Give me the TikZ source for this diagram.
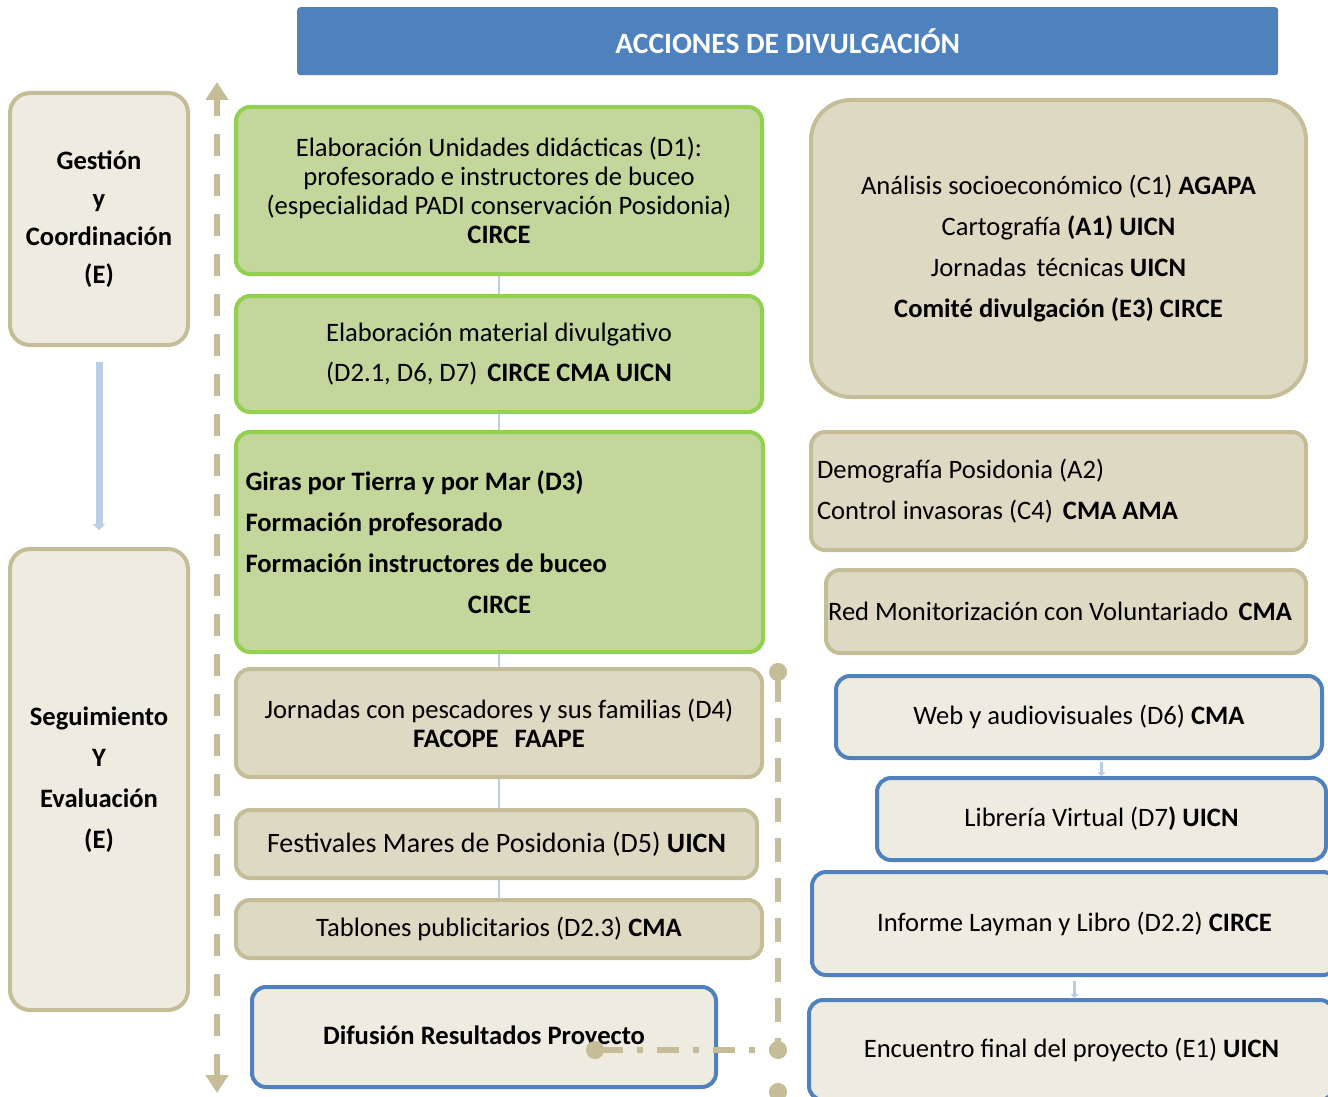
\documentclass[tikz,border=0pt]{standalone}
\usepackage{fontspec}
\setmainfont{Carlito}
\usetikzlibrary{arrows.meta,backgrounds}
\definecolor{titleblue}{HTML}{4F81BD}
\definecolor{paper}{HTML}{EEECE1}
\definecolor{tanfill}{HTML}{DDD9C3}
\definecolor{tanline}{HTML}{C4BD97}
\definecolor{greenfill}{HTML}{C3D69B}
\definecolor{greenline}{HTML}{92D050}
\definecolor{paleblue}{HTML}{B9CDE5}
\begin{document}
\begin{tikzpicture}[x=1pt, y=-1pt,
  every node/.style = {shape=rectangle, align=center, inner sep=0pt,
    font=\fontsize{26.6}{29}\selectfont},
  box/.style = {draw, line width=4pt, rounded corners=14pt, anchor=north west},
  greenbox/.style = {box, draw=greenline, fill=greenfill},
  tanbox/.style = {box, draw=tanline, fill=tanfill},
  bluebox/.style = {box, draw=titleblue, fill=paper},
  sidebox/.style = {box, draw=tanline, fill=paper, rounded corners=20pt,
    font=\bfseries\fontsize{26.6}{38}\selectfont},
  dashline/.style = {tanline, line width=6pt}]
  \useasboundingbox (0,0) rectangle (1328,1097);

  \node[anchor=north west, fill=titleblue, rounded corners=3pt, minimum width=981pt,
    minimum height=68pt, text=white, font=\bfseries\fontsize{29.5}{29}\selectfont]
    (title) at (297,7) {ACCIONES DE DIVULGACIÓN};

  \node[sidebox, minimum width=178pt, minimum height=252pt] (gest) at (8,91)
    {Gestión\\y\\Coordinación\\(E)};
  \node[sidebox, minimum width=178pt, minimum height=461pt, font=\bfseries\fontsize{26.6}{41}\selectfont]
    (segu) at (8,547) {Seguimiento\\Y\\Evaluación\\(E)};

  \node[greenbox, minimum width=526pt, minimum height=167pt] (d1) at (234,105)
    {Elaboración Unidades didácticas (D1):\\profesorado e instructores de buceo\\
     (especialidad PADI conservación Posidonia)\\\textbf{CIRCE}};
  \node[greenbox, minimum width=526pt, minimum height=116pt, font=\fontsize{26.6}{40}\selectfont]
    (d2) at (234,294)
    {Elaboración material divulgativo\\(D2.1, D6, D7)\hspace{10pt}\textbf{CIRCE CMA UICN}};
  \node[greenbox, minimum width=527pt, minimum height=220pt, align=flush left, text width=508pt,
    font=\bfseries\fontsize{26.6}{41}\selectfont] (d3) at (234,430)
    {Giras por Tierra y por Mar (D3)\\Formación profesorado\\Formación instructores de buceo\\
     \makebox[508pt]{CIRCE}};
  \node[tanbox, minimum width=526pt, minimum height=108pt] (d4) at (234,667)
    {Jornadas con pescadores y sus familias (D4)\\\textbf{FACOPE\hspace{16pt}FAAPE}};
  \node[tanbox, minimum width=521pt, minimum height=68pt, font=\fontsize{28}{29}\selectfont]
    (d5) at (234,808) {Festivales Mares de Posidonia (D5) \textbf{UICN}};
  \node[tanbox, minimum width=526pt, minimum height=58pt] (d23) at (234,898)
    {Tablones publicitarios (D2.3) \textbf{CMA}};
  \node[bluebox, minimum width=464pt, minimum height=100pt, font=\bfseries\fontsize{26.6}{29}\selectfont]
    (difu) at (250,985) {Difusión Resultados Proyecto};

  \node[tanbox, rounded corners=40pt, minimum width=495pt, minimum height=297pt,
    font=\fontsize{26.6}{41}\selectfont] (c1) at (809,98)
    {Análisis socioeconómico (C1) \textbf{AGAPA}\\Cartografía \textbf{(A1) UICN}\\
     Jornadas\hspace{10pt}técnicas \textbf{UICN}\\\textbf{Comité divulgación (E3) CIRCE}};
  \node[tanbox, minimum width=495pt, minimum height=118pt, align=flush left, text width=483pt,
    font=\fontsize{26.6}{41}\selectfont] (a2) at (809,430)
    {Demografía Posidonia (A2)\\Control invasoras (C4)\hspace{10pt}\textbf{CMA AMA}};
  \node[tanbox, minimum width=480pt, minimum height=83pt, align=flush left, text width=476pt]
    (red) at (824,568) {Red Monitorización con Voluntariado\hspace{10pt}\textbf{CMA}};
  \node[bluebox, minimum width=486pt, minimum height=82pt] (d6) at (834,674)
    {Web y audiovisuales (D6) \textbf{CMA}};
  \node[bluebox, minimum width=449pt, minimum height=82pt] (d7) at (875,776)
    {Librería Virtual (D7\textbf{) UICN}};
  \node[bluebox, minimum width=525pt, minimum height=103pt] (lay) at (810,870)
    {Informe Layman y Libro (D2.2) \textbf{CIRCE}};
  \node[bluebox, minimum width=525pt, minimum height=100pt] (e1) at (807,998)
    {Encuentro final del proyecto (E1) \textbf{UICN}};

  \coordinate (up) at (217,82);
  \coordinate (down) at (217,1093);
  \coordinate (dtop) at (778,672);
  \coordinate (djoin) at (778,1050);
  \coordinate (dlow) at (778,1092);
  \coordinate (dend) at (778,1115);
  \coordinate (dstart) at (595,1050);

  \begin{scope}[on background layer]
    \draw[paleblue, line width=2pt] (d1.south) -- (d23.north);
  \end{scope}
  \draw[paleblue, line width=7pt, -{Triangle[width=12pt,length=6pt]},
    shorten <=15pt, shorten >=17pt] (gest.south) -- (segu.north);
  \draw[paleblue, line width=3pt, -{Triangle[width=8pt,length=4pt]}]
    (d6.south -| d7.north) ++(0,2) -- (d7.north);
  \draw[paleblue, line width=3pt, -{Triangle[width=8pt,length=4pt]}]
    (lay.south) ++(0,4) -- (lay.south |- e1.north);

  \draw[dashline, dash pattern=on 22pt off 18pt,
    {Triangle[width=22pt,length=18pt]}-{Triangle[width=22pt,length=18pt]}] (down) -- (up);
  \draw[dashline, dash pattern=on 24pt off 16pt, {Circle[length=18pt]}-,
    shorten <=-9pt] (dtop) -- (djoin);
  \draw[dashline, dash pattern=on 22pt off 14pt on 6pt off 14pt,
    {Circle[length=18pt]}-{Circle[length=18pt]}, shorten <=-9pt, shorten >=-9pt]
    (dstart) -- (djoin);
  \draw[dashline, {Circle[length=18pt]}-, shorten <=-9pt] (dlow) -- (dend);
\end{tikzpicture}
\end{document}
